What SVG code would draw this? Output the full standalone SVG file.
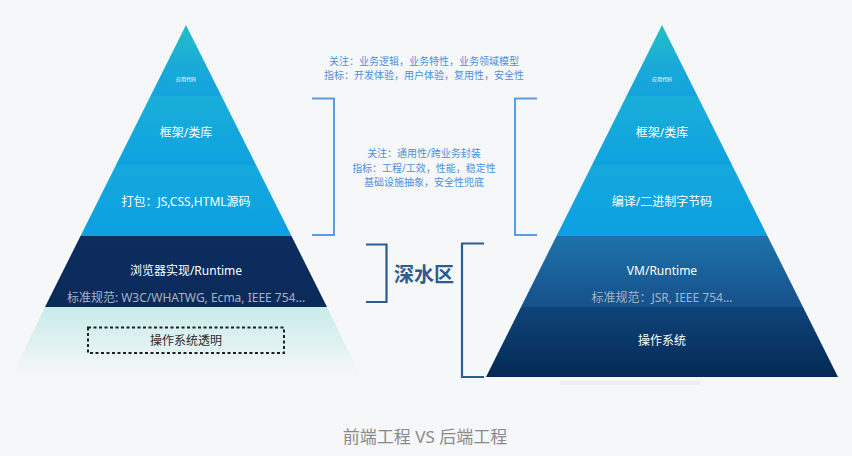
<svg xmlns="http://www.w3.org/2000/svg" width="852" height="456" viewBox="0 0 852 456">
  <defs>
    <linearGradient id="gTop" x1="0" y1="0" x2="0" y2="1">
      <stop offset="0" stop-color="#24bfc6"/>
      <stop offset="0.6" stop-color="#19aad9"/>
      <stop offset="1" stop-color="#14a3de"/>
    </linearGradient>
    <linearGradient id="gMid" x1="0" y1="0" x2="0" y2="1">
      <stop offset="0" stop-color="#1aafd8"/>
      <stop offset="1" stop-color="#0ea2e0"/>
    </linearGradient>
    <linearGradient id="gLow" x1="0" y1="0" x2="0" y2="1">
      <stop offset="0" stop-color="#15a9dc"/>
      <stop offset="1" stop-color="#0c9fe2"/>
    </linearGradient>
    <linearGradient id="gNavy" x1="0" y1="0" x2="0" y2="1">
      <stop offset="0" stop-color="#0c2d5e"/>
      <stop offset="1" stop-color="#0a2a5a"/>
    </linearGradient>
    <linearGradient id="gFade" x1="0" y1="0" x2="0" y2="1">
      <stop offset="0" stop-color="#c9ebea" stop-opacity="1"/>
      <stop offset="0.5" stop-color="#dcf1f0" stop-opacity="0.8"/>
      <stop offset="1" stop-color="#f6f7f8" stop-opacity="0"/>
    </linearGradient>
    <linearGradient id="gVM" x1="0" y1="0" x2="0" y2="1">
      <stop offset="0" stop-color="#1e72aa"/>
      <stop offset="1" stop-color="#17508a"/>
    </linearGradient>
    <linearGradient id="gOS" x1="0" y1="0" x2="0" y2="1">
      <stop offset="0" stop-color="#0e4479"/>
      <stop offset="1" stop-color="#052a54"/>
    </linearGradient>
  </defs>
  <style>
    text { font-family: "Noto Sans", "Noto Sans CJK SC", sans-serif; text-anchor: middle; }
    .lbl { fill: #ffffff; font-size: 12px; }
    .tiny { fill: #ffffff; font-size: 5px; }
    .std { fill: #a6b3c5; font-size: 12px; }
    .note { fill: #4a90e2; font-size: 10px; }
    .br { fill: none; stroke: #5a9be2; stroke-width: 2; }
    .dbr { fill: none; stroke: #2c5c90; stroke-width: 2.2; }
  </style>
  <rect x="0" y="0" width="852" height="456" fill="#f6f7f8"/>

  <!-- Left pyramid -->
  <g id="left-app">
    <polygon points="186,25 221.5,96 150.5,96" fill="url(#gTop)"/>
    <text class="tiny" x="186" y="81">应用代码</text>
  </g>
  <g id="left-framework">
    <polygon points="150.5,96 221.5,96 256,165 116,165" fill="url(#gMid)"/>
    <text class="lbl" x="186" y="137">框架/类库</text>
  </g>
  <g id="left-bundle">
    <polygon points="116,165 256,165 291.5,236 80.5,236" fill="url(#gLow)"/>
    <text class="lbl" x="186" y="206">打包：JS,CSS,HTML源码</text>
  </g>
  <g id="left-runtime">
    <polygon points="80.5,236 291.5,236 327,307 45,307" fill="url(#gNavy)"/>
    <text class="lbl" x="186" y="275">浏览器实现/Runtime</text>
    <text class="std" x="186" y="302">标准规范: W3C/WHATWG, Ecma, IEEE 754...</text>
  </g>
  <g id="left-os">
    <polygon points="45,307 327,307 366,388 6,388" fill="url(#gFade)"/>
    <rect x="88" y="327.5" width="196" height="25.5" fill="none" stroke="#1f1f1f" stroke-width="2" stroke-dasharray="3 2.5"/>
    <text x="186" y="345" fill="#2a2a2a" font-size="12">操作系统透明</text>
  </g>

  <!-- Right pyramid -->
  <g id="right-app">
    <polygon points="662,25 697.5,96 626.5,96" fill="url(#gTop)"/>
    <text class="tiny" x="662" y="81">应用代码</text>
  </g>
  <g id="right-framework">
    <polygon points="626.5,96 697.5,96 732,165 592,165" fill="url(#gMid)"/>
    <text class="lbl" x="662" y="137">框架/类库</text>
  </g>
  <g id="right-bytecode">
    <polygon points="592,165 732,165 767.5,236 556.5,236" fill="url(#gLow)"/>
    <text class="lbl" x="662" y="206">编译/二进制字节码</text>
  </g>
  <g id="right-runtime">
    <polygon points="556.5,236 767.5,236 803,307 521,307" fill="url(#gVM)"/>
    <text class="lbl" x="662" y="275">VM/Runtime</text>
    <text class="std" x="662" y="302">标准规范：JSR, IEEE 754...</text>
  </g>
  <g id="right-os">
    <rect x="560" y="381" width="140" height="4" fill="#eceeef"/>
    <polygon points="521,307 803,307 838,377 486,377" fill="url(#gOS)"/>
    <text class="lbl" x="662" y="345">操作系统</text>
  </g>

  <!-- Annotations -->
  <g id="note-business">
    <text class="note" x="424" y="65">关注：业务逻辑，业务特性，业务领域模型</text>
    <text class="note" x="424" y="79">指标：开发体验，用户体验，复用性，安全性</text>
  </g>
  <g id="note-infra">
    <text class="note" x="424" y="157">关注：通用性/跨业务封装</text>
    <text class="note" x="424" y="171.5">指标：工程/工效，性能，稳定性</text>
    <text class="note" x="424" y="186">基础设施抽象，安全性兜底</text>
  </g>
  <g id="deep-water">
    <text x="424" y="282" fill="#2c5c90" font-size="20" font-weight="bold">深水区</text>
  </g>

  <!-- Connectors (brackets) -->
  <g id="connectors">
    <polyline class="br" points="312,98.5 334,98.5 334,235 312,235"/>
    <polyline class="br" points="537,98.5 515,98.5 515,235 537,235"/>
    <polyline class="dbr" points="366,244.5 386.5,244.5 386.5,302 366,302"/>
    <polyline class="dbr" points="484,243.5 462,243.5 462,377 484,377"/>
  </g>

  <g id="caption">
    <text x="425" y="443" fill="#8a8a8a" font-size="17">前端工程 VS 后端工程</text>
  </g>
</svg>
